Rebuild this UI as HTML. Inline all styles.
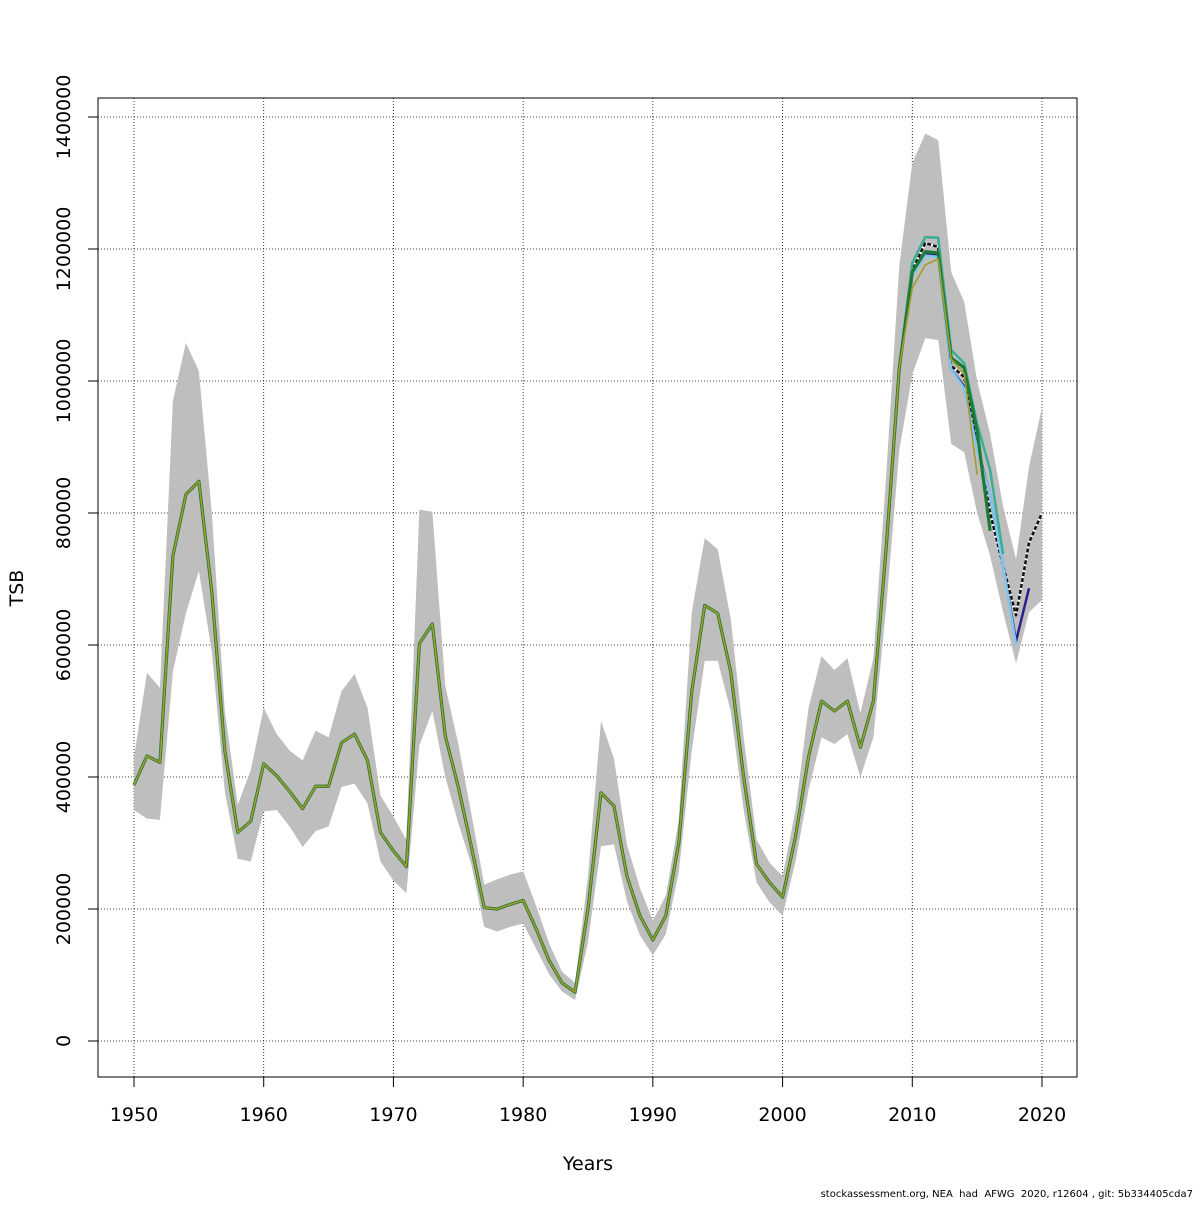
<!DOCTYPE html>
<html><head><meta charset="utf-8"><style>
body{margin:0;background:#fff;}
svg text{font-family:"DejaVu Sans","Liberation Sans",sans-serif;}
</style></head><body>
<svg id="chart" width="1200" height="1200" xmlns="http://www.w3.org/2000/svg">
<rect width="1200" height="1200" fill="#fff"/>
<g id="grid"></g>
<g id="band"></g>
<g id="lines"></g>
<rect x="98" y="98" width="979" height="979" fill="none" stroke="#000" stroke-width="1"/>
<g id="axes"></g>
<text x="588" y="1170" font-size="19" text-anchor="middle">Years</text>
<text x="23" y="588" font-size="19" text-anchor="middle" transform="rotate(-90 23 588)">TSB</text>
<text x="1193" y="1197" font-size="10" text-anchor="end" style="white-space:pre">stockassessment.org, NEA  had  AFWG  2020, r12604 , git: 5b334405cda7</text>
</svg>
<script>
const years = [];
for (let y = 1950; y <= 2020; y++) years.push(y);
const tsb = [388,432,422,735,828,848,680,440,316,333,420,402,378,352,386,386,452,465,425,316,288,264,602,632,462,385,295,202,200,207,213,170,122,88,74,200,376,356,250,190,153,190,300,530,660,648,560,400,268,240,218,310,430,515,500,515,445,515,750,1020,1168,1209,1203,1023,1006,909,800,720,645,755,800];
const upper = [430,558,535,970,1058,1015,800,500,358,410,505,465,440,425,470,460,530,556,505,372,340,305,805,802,538,450,345,237,245,252,257,205,148,105,88,250,485,428,298,232,183,220,335,650,762,745,640,460,305,270,250,350,505,583,562,580,497,580,860,1175,1330,1375,1365,1165,1120,1000,920,810,730,870,960];
const lower = [350,337,335,560,648,712,590,378,276,272,348,350,325,294,318,325,385,390,360,272,243,224,448,500,400,330,268,173,166,173,178,140,101,75,62,150,295,298,212,160,130,162,256,440,576,576,500,350,240,210,190,272,380,460,450,465,400,460,660,895,1010,1065,1062,905,892,800,735,650,572,650,668];
const peelNavy = [1160,1192,1190,1017,992,900,827,720,606,686];
const peelLightBlue = [1160,1190,1188,1017,989,897,827,720,600];
const peelTeal = [1179,1218,1217,1047,1027,935,865,738];
const peelGreen = [1165,1196,1194,1035,1020,924,773];
const peelOlive = [1141,1176,1185,1033,1011,858];
const yTicks = [0,200000,400000,600000,800000,1000000,1200000,1400000];
const xTicks = [1950,1960,1970,1980,1990,2000,2010,2020];

const NS = "http://www.w3.org/2000/svg";
const xs = yr => 134 + (yr - 1950) * (908 / 70);
const ys = v => 1041 - v * 1000 / 200000 * 132;
const ysRaw = v => 1041 - v / 200000 * 132;
function mk(tag, attrs, parent){ const e=document.createElementNS(NS,tag); for(const k in attrs) e.setAttribute(k,attrs[k]); parent.appendChild(e); return e; }

const grid = document.getElementById('grid');
const axes = document.getElementById('axes');
xTicks.forEach(t => {
  const l = mk('line',{x1:xs(t),x2:xs(t),y1:98,y2:1077,stroke:'#000','stroke-width':0.8,'stroke-dasharray':'1,2'},grid);
  
  
  const tk = mk('line',{x1:xs(t),x2:xs(t),y1:1077,y2:1087,stroke:'#000'},axes);
  
  
  const tx = mk('text',{x:xs(t),y:1121,'font-size':19,'text-anchor':'middle'},axes);
  tx.textContent = t;
  
  
});
yTicks.forEach(t => {
  const y = ysRaw(t);
  const l = mk('line',{x1:98,x2:1077,y1:y,y2:y,stroke:'#000','stroke-width':0.8,'stroke-dasharray':'1,2'},grid);
  
  
  const tk = mk('line',{x1:88,x2:98,y1:y,y2:y,stroke:'#000'},axes);
  
  
  const tx = mk('text',{x:70,y:y,'font-size':19,'text-anchor':'middle',transform:`rotate(-90 70 ${y})`},axes);
  tx.textContent = t;
  
  
});

const band = document.getElementById('band');
let pts = years.map((yr,i)=>xs(yr)+','+ys(upper[i]));
for (let i=years.length-1;i>=0;i--) pts.push(xs(years[i])+','+ys(lower[i]));
const poly = mk('polygon',{points:pts.join(' '),fill:'#bebebe',stroke:'none'},band);



const lines = document.getElementById('lines');
function seriesFromPeel(peel){
  const out=[]; const n = years.indexOf(2010);
  for(let i=0;i<n;i++) out.push(tsb[i]);
  return out.concat(peel);
}
function drawLine(vals, color, name, dash, w){
  const p = vals.map((v,i)=>xs(years[i])+','+ys(v)).join(' ');
  const attrs = {points:p,fill:'none',stroke:color,'stroke-width':w||2.5,'stroke-linejoin':'round'};
  if(dash) attrs['stroke-dasharray']=dash;
  const pl = mk('polyline',attrs,lines);
  
  
}
drawLine(tsb,'#fff','tsb-line-under');
drawLine(tsb,'#111','tsb-line','4,2');
drawLine(seriesFromPeel(peelNavy),'#2b1f8f','peel-2019');
drawLine(seriesFromPeel(peelLightBlue),'#7ec8f0','peel-2018');
drawLine(seriesFromPeel(peelTeal),'#3aae95','peel-2017');
drawLine(seriesFromPeel(peelGreen),'#1f7a35','peel-2016',null,3.2);
drawLine(seriesFromPeel(peelOlive),'#a39b2b','peel-2015',null,1.6);
</script>
</body></html>
